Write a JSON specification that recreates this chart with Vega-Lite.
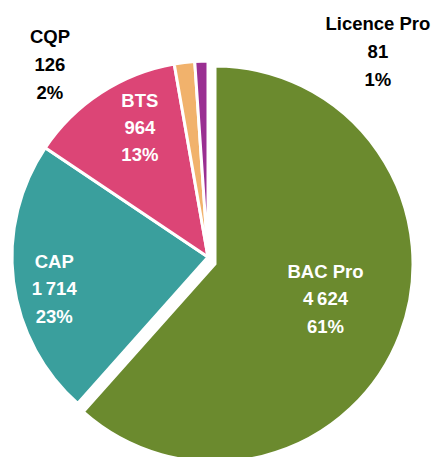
{
  "$schema": "https://vega.github.io/schema/vega-lite/v6.json",
  "width": 416,
  "height": 400,
  "autosize": "none",
  "padding": {"left": 0, "top": 57, "right": 17, "bottom": 0},
  "background": "white",
  "config": {"view": {"stroke": null}},
  "data": {
    "values": [
      {"cat": "BAC Pro", "n": 4624, "order": 1, "label": "BAC Pro\n4\u2009624\n61%"},
      {"cat": "CAP", "n": 1714, "order": 2, "label": "CAP\n1\u2009714\n23%"},
      {"cat": "BTS", "n": 964, "order": 3, "label": "BTS\n964\n13%"},
      {"cat": "CQP", "n": 126, "order": 4, "label": "CQP\n126\n2%"},
      {"cat": "Licence Pro", "n": 81, "order": 5, "label": "Licence Pro\n81\n1%"}
    ]
  },
  "encoding": {
    "theta": {"field": "n", "type": "quantitative", "stack": true},
    "order": {"field": "order", "type": "quantitative"}
  },
  "layer": [
    {
      "mark": {"type": "arc", "outerRadius": 196, "stroke": "white", "strokeWidth": 3},
      "encoding": {
        "color": {
          "field": "cat", "type": "nominal", "legend": null,
          "scale": {"domain": ["BAC Pro", "CAP", "BTS", "CQP", "Licence Pro"], "range": ["#6b8a2e", "#3a9f9d", "#dc4576", "#f1b26c", "#9a2f92"]}
        },
        "opacity": {"condition": {"test": "datum.cat === 'BAC Pro'", "value": 0}, "value": 1}
      }
    },
    {
      "mark": {"type": "arc", "outerRadius": 198, "stroke": "white", "strokeWidth": 3, "xOffset": 7, "yOffset": 7},
      "encoding": {
        "color": {"field": "cat", "type": "nominal", "legend": null},
        "opacity": {"condition": {"test": "datum.cat === 'BAC Pro'", "value": 1}, "value": 0}
      }
    },
    {
      "mark": {"type": "text", "radius": 114, "lineBreak": "\n", "lineHeight": 27.5, "font": "Liberation Sans", "fontWeight": "bold", "fontSize": 18.5, "fill": "white", "xOffset": 7, "yOffset": 7, "dx": 4, "dy": -33},
      "encoding": {"text": {"condition": {"test": "datum.cat === 'BAC Pro'", "field": "label"}, "value": ""}}
    },
    {
      "mark": {"type": "text", "radius": 158, "lineBreak": "\n", "lineHeight": 27.5, "font": "Liberation Sans", "fontWeight": "bold", "fontSize": 18.5, "fill": "white", "dx": 3, "dy": -15},
      "encoding": {"text": {"condition": {"test": "datum.cat === 'CAP'", "field": "label"}, "value": ""}}
    },
    {
      "mark": {"type": "text", "radius": 147, "lineBreak": "\n", "lineHeight": 27, "font": "Liberation Sans", "fontWeight": "bold", "fontSize": 18.5, "fill": "white", "dx": 12, "dy": -33},
      "encoding": {"text": {"condition": {"test": "datum.cat === 'BTS'", "field": "label"}, "value": ""}}
    },
    {
      "mark": {"type": "text", "radius": 250, "lineBreak": "\n", "lineHeight": 28, "font": "Liberation Sans", "fontWeight": "bold", "fontSize": 18.5, "fill": "black", "dx": -128, "dy": 28},
      "encoding": {"text": {"condition": {"test": "datum.cat === 'CQP'", "field": "label"}, "value": ""}}
    },
    {
      "mark": {"type": "text", "radius": 210, "lineBreak": "\n", "lineHeight": 28, "font": "Liberation Sans", "fontWeight": "bold", "fontSize": 18.5, "fill": "black", "dx": 177, "dy": -23},
      "encoding": {"text": {"condition": {"test": "datum.cat === 'Licence Pro'", "field": "label"}, "value": ""}}
    }
  ]
}
